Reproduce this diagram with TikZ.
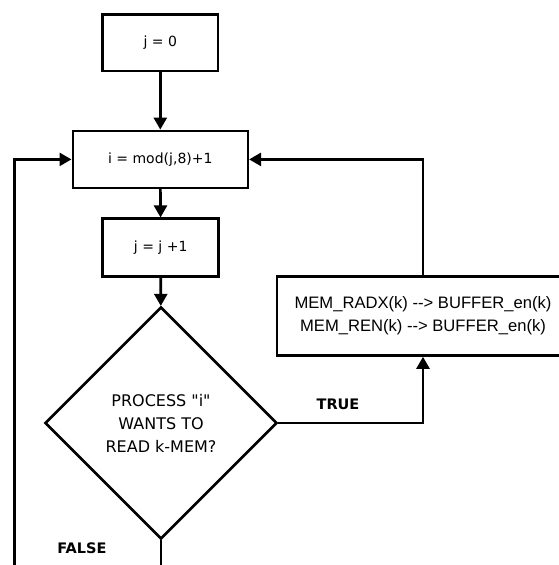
\documentclass[tikz,border=0pt]{standalone}
\usepackage{fontspec}
\setmainfont{DejaVu Sans}
\newfontfamily\dvfont{DejaVu Sans}
\newfontfamily\arialfont{Liberation Sans}
\usetikzlibrary{shapes.geometric,arrows.meta}
\begin{document}
\begin{tikzpicture}[x=1pt,y=-1pt,
  lw/.style={line width=2.6pt},
  box/.style={draw, lw, rectangle, inner sep=0pt, font=\fontsize{14}{17}\selectfont, align=center},
  dec/.style={draw, lw, diamond, inner sep=0pt, minimum width=232pt, minimum height=232pt, font=\dvfont\fontsize{16}{23}\selectfont, align=center},
  conn/.style={lw, -{Triangle[length=12pt,width=13pt]}},
  lab/.style={font=\fontsize{14.5}{17}\selectfont\bfseries}]
\useasboundingbox (0,0) rectangle (559,565);
\node[box, minimum width=115.5pt, minimum height=56.5pt] (b1) at (160.3,42.8) {j = 0};
\node[box, minimum width=175pt, minimum height=57pt] (b2) at (160.3,159.4) {i = mod(j,8)+1};
\node[box, minimum width=116pt, minimum height=57.5pt] (b3) at (160.7,247.5) {j = j +1};
\node[dec] (d) at (161,423) {PROCESS "i"\\WANTS TO\\READ k-MEM?};
\node[box, minimum width=292pt, minimum height=79pt, font=\arialfont\fontsize{16.6}{23}\selectfont] (r) at (423,316) {MEM\_RADX(k) -{}-> BUFFER\_en(k)\\MEM\_REN(k) -{}-> BUFFER\_en(k)};
\node[lab] (t) at (338,404) {TRUE};
\node[lab] (f) at (82,548) {FALSE};
\coordinate (bl) at (14.7,575);
\coordinate (db) at (161,575);
\draw[conn] (b1) -- (b2);
\draw[conn] (b2) -- (b3);
\draw[conn] (b3) -- (d);
\draw[conn] (d.east) -| (r.south);
\draw[conn] (r.north) |- (b2.east);
\draw[conn] (bl) |- (b2.west);
\draw[lw] (d.south) -- (db);
\end{tikzpicture}
\end{document}
